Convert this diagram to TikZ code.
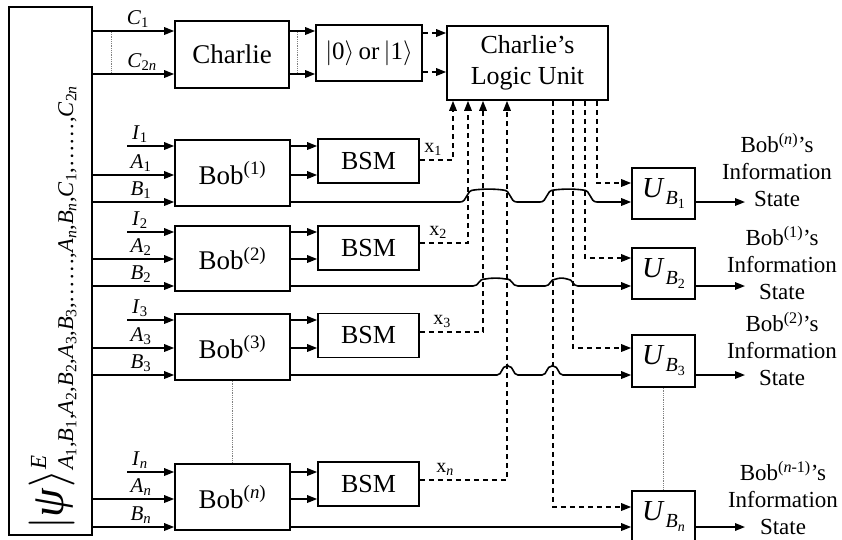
\RequirePackage{fix-cm}
\documentclass[tikz,border=0pt]{standalone}
\usepackage{fontspec}
\setmainfont{Liberation Serif}
\usetikzlibrary{arrows.meta}

\newcommand\fs[2]{\fontsize{#1}{#2}\selectfont}
\newcommand\qv[2]{\textit{#1}\textsubscript{#2}}
\newcommand\ulab[1]{\fs{29}{29}\textit{U}\kern1pt\raisebox{-7pt}{\fs{20}{20}\textit{B}\raisebox{-4pt}{\fs{14}{14}#1}}}
% a wire jumping over crossing dashed lines: start x, end x, y, height, shoulder
\newcommand\hop[5]{-- (#1,#3) .. controls ({#1+0.55*#5},#3) and ({#1+0.4*#5},{#3-#4}) .. ({#1+#5},{#3-#4}) .. controls ({#1+#5+0.3*(#2-#1-2*#5)},{#3-#4-1.2}) and ({#2-#5-0.3*(#2-#1-2*#5)},{#3-#4-1.2}) .. ({#2-#5},{#3-#4}) .. controls ({#2-0.4*#5},{#3-#4}) and ({#2-0.55*#5},#3) .. (#2,#3)}

\begin{document}
\begin{tikzpicture}[x=1pt,y=-1pt,
  >={Triangle[length=10pt,width=7.5pt]},
  box/.style={draw, line width=1.6pt, inner sep=0pt, align=center},
  wire/.style={line width=1.6pt},
  dashwire/.style={line width=1.6pt, dash pattern=on 5pt off 4pt},
  dots/.style={gray, line width=0.8pt, densely dotted},
  lab/.style={font=\fs{21}{24}, inner sep=0pt, anchor=base},
  xlab/.style={font=\fs{20}{24}, inner sep=0pt, anchor=base},
  info/.style={font=\fs{23}{27}, align=center, inner sep=0pt}]
\useasboundingbox (0,0) rectangle (842,539);
\begin{scope}
\clip (0,0) rectangle (842,539);

% source state
\node[box, minimum width=83, minimum height=528] (psi) at (50.5,271) {};
\node[rotate=90, anchor=base west, inner sep=0pt] (psitext) at (63,530)
  {\fs{46}{46}$\big|$\textit{ψ}$\big\rangle$\makebox[0pt][l]{\raisebox{17pt}{\fs{23}{23}\textit{E}}}\raisebox{-10pt}{\fs{22.5}{23}\qv{A}{1},\qv{B}{1},\qv{A}{2},\qv{B}{2},\qv{A}{3},\qv{B}{3},……,\qv{A}{\textit{n}},\qv{B}{\textit{n}},\qv{C}{1},……,\qv{C}{2\textit{n}}}};

% Charlie chain
\node[box, minimum width=114, minimum height=67, font=\fs{27}{30}] (charlie) at (232,54.5) {Charlie};
\node[box, minimum width=106, minimum height=56, font=\fs{25}{28}] (zo) at (369,53) {$\big|$0$\big\rangle$\,or\,$\big|$1$\big\rangle$};
\node[box, minimum width=161, minimum height=74, font=\fs{26}{31}] (logic) at (527.5,63) {Charlie’s\\Logic Unit};

% Bobs
\node[box, minimum width=115, minimum height=66, font=\fs{27}{30}] (bob1) at (232.5,173) {Bob\textsuperscript{(1)}};
\node[box, minimum width=115, minimum height=65, font=\fs{27}{30}] (bob2) at (232.5,258.5) {Bob\textsuperscript{(2)}};
\node[box, minimum width=115, minimum height=66, font=\fs{27}{30}] (bob3) at (232.5,347) {Bob\textsuperscript{(3)}};
\node[box, minimum width=115, minimum height=66, font=\fs{27}{30}] (bobn) at (232.5,497) {Bob\textsuperscript{(\textit{n})}};

% Bell-state measurements
\node[box, minimum width=101, minimum height=44, font=\fs{26}{30}] (bsm1) at (368.5,161) {BSM};
\node[box, minimum width=101, minimum height=44, font=\fs{26}{30}] (bsm2) at (368.5,248) {BSM};
\node[box, minimum width=101, minimum height=44, font=\fs{26}{30}] (bsm3) at (368.5,335.5) {BSM};
\node[box, minimum width=101, minimum height=44, font=\fs{26}{30}] (bsmn) at (368.5,484) {BSM};

% unitary corrections
\node[box, minimum width=63, minimum height=51] (u1) at (663.5,193.5) {\ulab{1}};
\node[box, minimum width=63, minimum height=51] (u2) at (663.5,273.5) {\ulab{2}};
\node[box, minimum width=63, minimum height=52] (u3) at (663.5,361) {\ulab{3}};
\node[box, minimum width=63, minimum height=51] (un) at (663.5,516.5) {\ulab{\textit{n}}};

% Charlie inputs
\draw[wire,->] (psi.east |- 0,31) -- (charlie.west |- 0,31);
\draw[wire,->] (psi.east |- 0,74) -- (charlie.west |- 0,74);
\draw[dots] (111,32) -- (111,73);
\node[lab] (lc1) at (138,24) {\qv{C}{1}};
\node[lab] (lc2) at (142,67) {\qv{C}{2\textit{n}}};
\draw[wire,->] (charlie.east |- 0,31) -- (zo.west |- 0,31);
\draw[wire,->] (charlie.east |- 0,74) -- (zo.west |- 0,74);
\draw[dots] (297,32) -- (297,73);
\draw[dashwire,->] (zo.east |- 0,33) -- (logic.west |- 0,33);
\draw[dashwire,->] (zo.east |- 0,72) -- (logic.west |- 0,72);

% Bob inputs
\foreach \b/\yi/\ya/\yb in {bob1/146/175/202, bob2/232/259/286, bob3/320/348/375, bobn/472/499/527}{
  \draw[wire,->] (127,\yi) -- (\b.west |- 0,\yi);
  \draw[wire,->] (psi.east |- 0,\ya) -- (\b.west |- 0,\ya);
  \draw[wire,->] (psi.east |- 0,\yb) -- (\b.west |- 0,\yb);
}
\node[lab] at (140,139) {\qv{I}{1}};
\node[lab] at (141,168) {\qv{A}{1}};
\node[lab] at (141,195) {\qv{B}{1}};
\node[lab] at (140,225) {\qv{I}{2}};
\node[lab] at (141,252) {\qv{A}{2}};
\node[lab] at (141,279) {\qv{B}{2}};
\node[lab] at (140,313) {\qv{I}{3}};
\node[lab] at (141,341) {\qv{A}{3}};
\node[lab] at (141,368) {\qv{B}{3}};
\node[lab] at (140,465) {\qv{I}{\textit{n}}};
\node[lab] at (141,492) {\qv{A}{\textit{n}}};
\node[lab] at (141,520) {\qv{B}{\textit{n}}};

% Bob to BSM
\draw[wire,->] (bob1.east |- 0,146) -- (bsm1.west |- 0,146);
\draw[wire,->] (bob1.east |- 0,175) -- (bsm1.west |- 0,175);
\draw[wire,->] (bob2.east |- 0,232) -- (bsm2.west |- 0,232);
\draw[wire,->] (bob2.east |- 0,259) -- (bsm2.west |- 0,259);
\draw[wire,->] (bob3.east |- 0,320) -- (bsm3.west |- 0,320);
\draw[wire,->] (bob3.east |- 0,348) -- (bsm3.west |- 0,348);
\draw[wire,->] (bobn.east |- 0,472) -- (bsmn.west |- 0,472);
\draw[wire,->] (bobn.east |- 0,499) -- (bsmn.west |- 0,499);
\draw[dots] (bob3.south) -- (bobn.north);

% measurement outcomes to the logic unit
\draw[dashwire,->] (bsm1.east |- 0,160) -- (453,160) -- (logic.south -| 453,0);
\draw[dashwire,->] (bsm2.east |- 0,243) -- (468,243) -- (logic.south -| 468,0);
\draw[dashwire,->] (bsm3.east |- 0,332) -- (483,332) -- (logic.south -| 483,0);
\draw[dashwire,->] (bsmn.east |- 0,480) -- (507,480) -- (logic.south -| 507,0);
\node[xlab] at (433,152) {x\textsubscript{1}};
\node[xlab] at (438,235) {x\textsubscript{2}};
\node[xlab] at (442,324) {x\textsubscript{3}};
\node[xlab] at (445,472) {x\textsubscript{\textit{n}}};

% logic unit to the corrections
\draw[dashwire,->] (logic.south -| 597,0) -- (597,183) -- (u1.west |- 0,183);
\draw[dashwire,->] (logic.south -| 585,0) -- (585,258) -- (u2.west |- 0,258);
\draw[dashwire,->] (logic.south -| 573,0) -- (573,348) -- (u3.west |- 0,348);
\draw[dashwire,->] (logic.south -| 553,0) -- (553,507) -- (un.west |- 0,507);

% Bob's own qubits to the corrections
\draw[wire,->] (bob1.east |- 0,202) \hop{460}{517}{202}{12}{14} \hop{540}{597}{202}{12}{14} -- (u1.west |- 0,202);
\draw[wire,->] (bob2.east |- 0,286) \hop{473}{518}{286}{7}{12} \hop{545}{578}{286}{7}{11} -- (u2.west |- 0,286);
\draw[wire,->] (bob3.east |- 0,375) \hop{497}{518}{375}{9}{10} \hop{542}{563}{375}{9}{10} -- (u3.west |- 0,375);
\draw[wire,->] (bobn.east |- 0,527) -- (un.west |- 0,527);
\draw[dots] (u3.south) -- (un.north);

% outputs
\coordinate (o1) at (745,202);
\coordinate (o2) at (745,286);
\coordinate (o3) at (745,375);
\coordinate (on) at (745,527);
\draw[wire,->] (u1.east |- o1) -- (o1);
\draw[wire,->] (u2.east |- o2) -- (o2);
\draw[wire,->] (u3.east |- o3) -- (o3);
\draw[wire,->] (un.east |- on) -- (on);
\node[info] (s1) at (777,170) {Bob\textsuperscript{(\textit{n})}’s\\Information\\State};
\node[info] (s2) at (782,263) {Bob\textsuperscript{(1)}’s\\Information\\State};
\node[info] (s3) at (782,349) {Bob\textsuperscript{(2)}’s\\Information\\State};
\node[info] (sn) at (783,498) {Bob\textsuperscript{(\textit{n}-1)}’s\\Information\\State};
\end{scope}
\end{tikzpicture}
\end{document}
